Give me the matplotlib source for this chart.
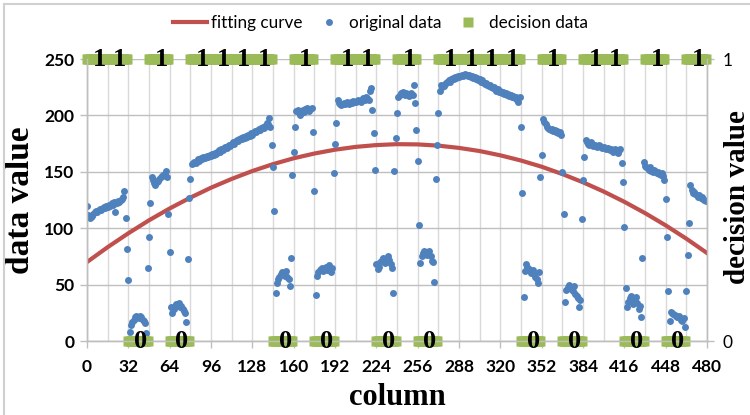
import matplotlib
matplotlib.use("Agg")
import matplotlib.pyplot as plt
from matplotlib.lines import Line2D
import numpy as np

# original data, one value per column (16 columns per row)
original_values = [
    120, 112, 109, 110, 111, 113, 114, 115, 114, 116, 117, 116, 118, 119, 118, 120,
    119, 121, 120, 122, 121, 123, 114, 122, 124, 123, 125, 126, 128, 133, 109, 82,
    54, 8, 14, 17, 19, 21, 22, 21, 20, 22, 21, 19, 18, 16, 7, 65,
    92, 122, 145, 143, 140, 138, 141, 142, 144, 145, 146, 147, 148, 151, 145, 113,
    79, 30, 25, 28, 31, 33, 32, 34, 30, 31, 28, 27, 25, 17, 73, 127,
    144, 157, 158, 159, 158, 160, 161, 160, 162, 161, 163, 162, 163, 164, 163, 165,
    164, 166, 165, 167, 166, 168, 169, 168, 170, 169, 171, 172, 171, 173, 174, 173,
    175, 176, 175, 177, 178, 177, 179, 180, 179, 181, 180, 182, 181, 183, 182, 184,
    183, 185, 186, 185, 187, 188, 187, 189, 190, 189, 191, 193, 192, 198, 190, 174,
    154, 115, 43, 51, 55, 57, 59, 61, 60, 58, 62, 57, 55, 49, 74, 147,
    168, 190, 204, 205, 203, 200, 202, 205, 203, 206, 207, 205, 204, 206, 207, 185,
    133, 41, 58, 61, 63, 64, 65, 62, 64, 66, 63, 67, 65, 61, 65, 149,
    175, 193, 214, 211, 210, 209, 210, 211, 210, 212, 211, 210, 212, 211, 213, 212,
    212, 213, 214, 213, 212, 214, 215, 214, 216, 215, 214, 222, 224, 205, 184, 152,
    68, 64, 66, 70, 72, 74, 71, 69, 73, 75, 72, 68, 65, 43, 151, 180,
    202, 216, 218, 220, 219, 221, 218, 220, 219, 217, 219, 220, 218, 227, 211, 187,
    160, 103, 69, 75, 78, 80, 77, 76, 78, 80, 75, 71, 70, 52, 144, 174,
    202, 222, 227, 225, 226, 228, 229, 230, 231, 230, 232, 233, 232, 234, 233, 235,
    234, 235, 236, 235, 236, 237, 236, 235, 236, 234, 235, 233, 234, 232, 233, 231,
    232, 230, 231, 229, 228, 229, 227, 226, 227, 225, 224, 225, 223, 222, 223, 221,
    222, 220, 221, 219, 220, 218, 219, 217, 218, 216, 217, 215, 216, 214, 212, 216,
    190, 131, 39, 62, 68, 66, 64, 62, 60, 63, 59, 57, 55, 51, 61, 145,
    165, 197, 194, 192, 190, 189, 188, 187, 188, 186, 187, 185, 186, 184, 185, 183,
    150, 113, 35, 45, 48, 50, 47, 46, 44, 49, 42, 40, 38, 30, 36, 108,
    143, 163, 178, 176, 175, 174, 176, 175, 173, 174, 173, 172, 174, 173, 172, 171,
    172, 171, 170, 171, 170, 169, 170, 168, 169, 170, 168, 167, 169, 170, 158, 141,
    101, 47, 30, 35, 38, 40, 36, 33, 37, 39, 34, 28, 31, 21, 74, 159,
    155, 154, 153, 152, 154, 151, 150, 152, 151, 149, 150, 148, 147, 149, 146, 143,
    126, 92, 44, 18, 26, 25, 24, 23, 22, 21, 22, 20, 19, 18, 20, 12,
    44, 76, 105, 138, 134, 131, 132, 130, 129, 128, 129, 127, 128, 126, 125, 124,
]

# decision value for each block of 16 columns
block_size = 16
decision_blocks = [1, 1, 0, 1, 0, 1, 1, 1, 1, 0, 1, 0, 1, 1, 0,
                   1, 0, 1, 1, 1, 1, 0, 1, 0, 1, 1, 0, 1, 0, 1]

# fitting curve every 16 columns
curve_columns = list(range(0, 481, 16))
curve_values = [70.0, 83.2, 95.5, 107.0, 117.5, 127.1, 135.9, 143.7, 150.7, 156.8,
                162.0, 166.2, 169.6, 172.1, 173.7, 174.5, 174.3, 173.2, 171.2, 168.4,
                164.6, 160.0, 154.5, 148.0, 140.7, 132.5, 123.4, 113.4, 102.5, 90.7, 78.0]

x_ticks = list(range(0, 481, 32))

red = "#C0504D"
blue = "#4F81BD"
green = "#9BBB59"
sans = "Lato"
serif = "Liberation Serif"

columns = np.arange(len(original_values))
decision_cols = np.arange(len(decision_blocks) * block_size)
decision_values = np.repeat(decision_blocks, block_size)

fig = plt.figure(figsize=(7.5, 4.15), dpi=100)
ax = fig.add_axes([0.116, 0.1783, 0.8267, 0.6795])
ax2 = ax.twinx()

# grid
for x in range(0, 481, 16):
    ax.axvline(x, color="#D9D9D9", lw=1, zorder=0)
ax.set_axisbelow(True)
ax.yaxis.grid(True, color="#BFBFBF", lw=1)

ax.plot(curve_columns, curve_values, color=red, lw=3, zorder=3)
ax.plot(columns, original_values, "o", color=blue, ms=5, mec="none", zorder=4)

ax2.plot(decision_cols, decision_values, "s", color=green, ms=7.3, mec="none",
         clip_on=False, zorder=2)
for i, v in enumerate(decision_blocks):
    ax2.text(i * block_size + 9.5, v, str(v), ha="center", va="center",
             fontsize=19, fontweight="bold", family=serif, clip_on=False, zorder=5)

ax.set_xlim(0, 480)
ax.set_ylim(0, 250)
ax2.set_ylim(0, 1)

ax.set_xticks(x_ticks)
ax.set_yticks(range(0, 251, 50))
ax2.set_yticks([0, 1])

ax.spines["top"].set_visible(False)
ax2.spines["top"].set_visible(False)
for a in (ax, ax2):
    for s in ["left", "right", "bottom"]:
        a.spines[s].set_color("#BFBFBF")
        a.spines[s].set_linewidth(1)

ax.tick_params(axis="both", colors="#BFBFBF", length=5, width=1, direction="out")
ax2.tick_params(axis="y", colors="#BFBFBF", length=5, width=1, direction="out")
for lab in ax.get_xticklabels() + ax.get_yticklabels():
    lab.set_fontfamily(sans)
    lab.set_fontweight("bold")
    lab.set_fontsize(12.5)
    lab.set_color("black")
for lab in ax2.get_yticklabels():
    lab.set_fontfamily(sans)
    lab.set_fontsize(12.5)
    lab.set_color("black")
ax.tick_params(axis="y", pad=4)
ax.tick_params(axis="x", pad=8)
ax2.tick_params(axis="y", pad=6)

ax.set_xlabel("column", fontsize=22, fontweight="bold", family=serif, labelpad=6)
ax.set_ylabel("data value", fontsize=24, fontweight="bold", family=serif, labelpad=6)
fig.text(0.983, 0.526, "decision value", rotation=90, ha="center", va="center",
         fontsize=21, fontweight="bold", family=serif)

handles = [
    Line2D([], [], color=red, lw=3),
    Line2D([], [], marker="o", color=blue, ls="none", ms=5, mec="none"),
    Line2D([], [], marker="s", color=green, ls="none", ms=7, mec="none"),
]
fig.legend(handles, ["fitting curve", "original data", "decision data"],
           loc="center", bbox_to_anchor=(0.507, 0.944), ncol=3, frameon=False,
           prop={"family": sans, "size": 12.3}, handlelength=2.0, handletextpad=0.2,
           columnspacing=0.55)

# light frame of the chart area
fig.add_artist(Line2D([4 / 750, 1], [1 - 4 / 415, 1 - 4 / 415], color="#D0D0D0", lw=1.5))
fig.add_artist(Line2D([4 / 750, 4 / 750], [0, 1 - 4 / 415], color="#D0D0D0", lw=1.5))

fig.savefig("out.png", dpi=100)
